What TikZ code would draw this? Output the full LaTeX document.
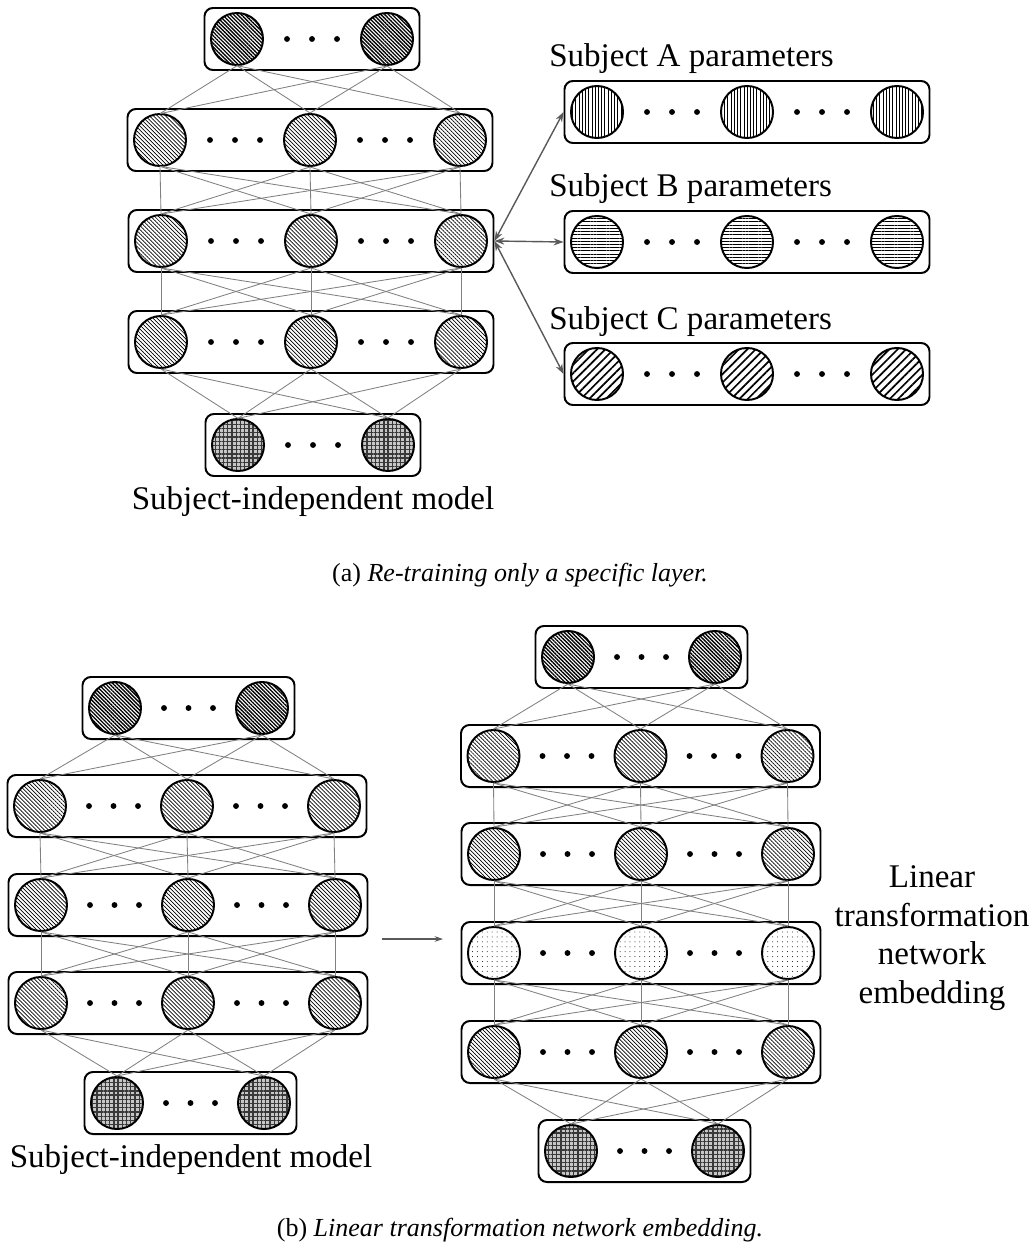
\documentclass[tikz,border=0pt]{standalone}
\usepackage{fontspec}
\setmainfont{Liberation Serif}
\usetikzlibrary{patterns.meta, arrows.meta}

% spacing of the units inside a layer
\newcommand{\gap}{150}

% layer of three units with dots in between
\newcommand{\triolayer}[4]{%
  \node[layerbox, minimum width={(2*\gap+65)*0.025cm}] (#1) at (#2,#3) {};
  \foreach \i/\k in {1/-1,2/0,3/1}
    \node[unit, #4] (#1-\i) at ({#2+\k*\gap},#3) {};
  \foreach \d in {-4,-3,-2,2,3,4}
    \fill ({#2+\d*\gap/6},#3) circle (2.1pt);
}

% layer of two units
\newcommand{\pairlayer}[4]{%
  \node[layerbox, minimum width={(\gap+65)*0.025cm}] (#1) at (#2,#3) {};
  \foreach \i/\k in {1/-1,2/1}
    \node[unit, #4] (#1-\i) at ({#2+\k*\gap/2},#3) {};
  \foreach \d in {-1,0,1}
    \fill ({#2+\d*\gap/6},#3) circle (2.1pt);
}

% full connection between two layers
\newcommand{\links}[4]{%
  \foreach \i in {1,...,#2}
    \foreach \j in {1,...,#4}
      \draw[link] (#1-\i.south) -- (#3-\j.north);
}

\begin{document}
\begin{tikzpicture}[x=0.025cm, y=-0.025cm,
  unit/.style={circle, draw, line width=1.4pt, minimum size=1.3cm, inner sep=0pt},
  layerbox/.style={draw, rounded corners=6pt, line width=1.4pt, minimum height=1.55cm, inner sep=0pt},
  link/.style={draw=gray, line width=0.6pt},
  outfill/.style={pattern={Lines[angle=-45, distance=1.9pt, line width=0.95pt]}},
  hidfill/.style={pattern={Lines[angle=-45, distance=2pt, line width=0.5pt]}},
  infill/.style={preaction={fill=gray!45}, pattern={Hatch[distance=3pt, line width=0.9pt]}, pattern color=gray!45!black},
  vfill/.style={pattern={Lines[angle=90, distance=2.3pt, line width=0.5pt]}},
  hfill/.style={pattern={Lines[angle=0, distance=2.3pt, line width=0.5pt]}},
  sfill/.style={pattern={Lines[angle=225, distance=4.2pt, line width=1.2pt]}},
  dfill/.style={pattern={Dots[distance=3.5pt, radius=0.35pt]}},
  lbl/.style={font=\fontsize{23.5}{27.5}\selectfont},
  captext/.style={font=\fontsize{18.5}{22}\selectfont},
  biarr/.style={{Stealth[length=7pt, width=5pt]}-{Stealth[length=7pt, width=5pt]}, draw=gray!70!black, line width=1pt},
  arr/.style={-{Stealth[length=6pt, width=4pt]}, draw=gray!70!black, line width=0.8pt}]
\useasboundingbox (0,0) rectangle (1032,1247);

% (a) one layer re-trained per subject
\pairlayer{aout}{312}{39}{outfill}
\triolayer{ah1}{310}{140}{hidfill}
\triolayer{ah2}{311}{241}{hidfill}
\triolayer{ah3}{311}{342}{hidfill}
\pairlayer{ain}{313}{445}{infill}
\links{aout}{2}{ah1}{3}
\links{ah1}{3}{ah2}{3}
\links{ah2}{3}{ah3}{3}
\links{ah3}{3}{ain}{2}
\node[lbl] (amodel) at (313,502) {Subject-independent model};

\triolayer{sa}{747}{112}{vfill}
\triolayer{sb}{747}{242}{hfill}
\triolayer{sc}{747}{374}{sfill}
\node[lbl, anchor=base west, inner sep=0pt] (la) at (549,67) {Subject A parameters};
\node[lbl, anchor=base west, inner sep=0pt] (lb) at (549,197) {Subject B parameters};
\node[lbl, anchor=base west, inner sep=0pt] (lc) at (549,329) {Subject C parameters};
\draw[biarr] (ah2.east) -- (sa.west);
\draw[biarr] (ah2.east) -- (sb.west);
\draw[biarr] (ah2.east) -- (sc.west);

\node[captext] (capa) at (520,575) {(a) \textit{Re-training only a specific layer.}};

% (b) extra linear layer inserted
\renewcommand{\gap}{147}
\pairlayer{bout}{188.5}{708}{outfill}
\triolayer{bh1}{187}{806}{hidfill}
\triolayer{bh2}{188}{905}{hidfill}
\triolayer{bh3}{188}{1003}{hidfill}
\pairlayer{bin}{190.5}{1103}{infill}
\links{bout}{2}{bh1}{3}
\links{bh1}{3}{bh2}{3}
\links{bh2}{3}{bh3}{3}
\links{bh3}{3}{bin}{2}
\node[lbl] (bmodel) at (191,1160) {Subject-independent model};

\pairlayer{cout}{641.5}{657}{outfill}
\triolayer{ch1}{640.5}{756}{hidfill}
\triolayer{ch2}{641}{854}{hidfill}
\triolayer{lin}{641}{953}{dfill}
\triolayer{ch3}{641}{1052}{hidfill}
\pairlayer{cin}{644.5}{1151}{infill}
\links{cout}{2}{ch1}{3}
\links{ch1}{3}{ch2}{3}
\links{ch2}{3}{lin}{3}
\links{lin}{3}{ch3}{3}
\links{ch3}{3}{cin}{2}
\node[lbl, align=center] (ltext) at (932,938) {Linear\\transformation\\network\\embedding};

\coordinate (from) at (382,939);
\coordinate (to) at (443,939);
\draw[arr] (from) -- (to);

\node[captext] (capb) at (520,1230) {(b) \textit{Linear transformation network embedding.}};
\end{tikzpicture}
\end{document}
